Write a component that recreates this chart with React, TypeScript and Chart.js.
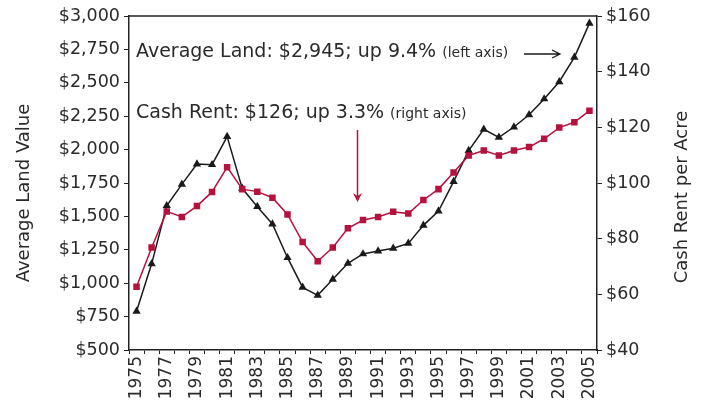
import React, { useEffect, useRef } from "react";
import { Chart, registerables } from "chart.js";

Chart.register(...registerables);

const years = [
  "1975", "1976", "1977", "1978", "1979", "1980", "1981", "1982", "1983", "1984",
  "1985", "1986", "1987", "1988", "1989", "1990", "1991", "1992", "1993", "1994",
  "1995", "1996", "1997", "1998", "1999", "2000", "2001", "2002", "2003", "2004", "2005",
];
const landValue = [
  790, 1145, 1580, 1740, 1892, 1887, 2097, 1710, 1573, 1443,
  1191, 969, 909, 1029, 1149, 1219, 1241, 1261, 1298, 1433,
  1540, 1760, 1992, 2152, 2092, 2169, 2261, 2379, 2508, 2691, 2945,
];
const cashRent = [
  62.7, 76.8, 89.8, 87.8, 91.7, 96.8, 105.7, 97.8, 96.9, 94.7,
  88.7, 78.8, 71.9, 76.8, 83.7, 86.7, 87.8, 89.7, 89.0, 93.9,
  97.8, 103.8, 109.9, 111.7, 109.9, 111.7, 112.9, 115.9, 119.9, 121.8, 126,
];
const leftTicks = [500, 750, 1000, 1250, 1500, 1750, 2000, 2250, 2500, 2750, 3000];
const rightTicks = [40, 60, 80, 100, 120, 140, 160];

const FONT = '"DejaVu Sans", sans-serif';
const TEXT = "#2a2a2a";
const RED = "#b5123e";
const BLACK = "#1a1a1a";

const decorPlugin = {
  id: "decor",
  afterDraw(chart: any) {
    const ctx = chart.ctx;
    const a = chart.chartArea;
    ctx.save();
    // top border
    ctx.strokeStyle = "#222";
    ctx.lineWidth = 1.5;
    ctx.beginPath();
    ctx.moveTo(a.left, a.top);
    ctx.lineTo(a.right, a.top);
    ctx.stroke();

    // axis titles
    ctx.fillStyle = TEXT;
    ctx.font = `18px ${FONT}`;
    ctx.textAlign = "center";
    ctx.textBaseline = "middle";
    ctx.save();
    ctx.translate(24, 193);
    ctx.rotate(-Math.PI / 2);
    ctx.fillText("Average Land Value", 0, 0);
    ctx.restore();
    ctx.save();
    ctx.translate(682, 197);
    ctx.rotate(-Math.PI / 2);
    ctx.fillText("Cash Rent per Acre", 0, 0);
    ctx.restore();

    // annotations
    ctx.textAlign = "left";
    ctx.textBaseline = "alphabetic";
    const x0 = a.left + 7;
    ctx.font = `19px ${FONT}`;
    const t1 = "Average Land: $2,945; up 9.4%";
    ctx.fillText(t1, x0, 57);
    const w1 = ctx.measureText(t1).width;
    ctx.font = `14px ${FONT}`;
    const t1b = "(left axis)";
    ctx.fillText(t1b, x0 + w1 + 6, 57);

    ctx.font = `19px ${FONT}`;
    const t2 = "Cash Rent: $126; up 3.3%";
    ctx.fillText(t2, x0, 118);
    const w2 = ctx.measureText(t2).width;
    ctx.font = `14px ${FONT}`;
    ctx.fillText("(right axis)", x0 + w2 + 6, 118);

    // black arrow
    ctx.strokeStyle = BLACK;
    ctx.lineWidth = 1.3;
    ctx.beginPath();
    ctx.moveTo(524, 54);
    ctx.lineTo(560, 54);
    ctx.moveTo(552, 50);
    ctx.lineTo(560, 54);
    ctx.lineTo(552, 58);
    ctx.stroke();

    // red arrow
    ctx.strokeStyle = RED;
    ctx.fillStyle = RED;
    ctx.lineWidth = 1.5;
    ctx.beginPath();
    ctx.moveTo(357.5, 130);
    ctx.lineTo(357.5, 198);
    ctx.stroke();
    ctx.beginPath();
    ctx.moveTo(353, 193);
    ctx.lineTo(357.5, 202);
    ctx.lineTo(362, 193);
    ctx.lineTo(357.5, 196);
    ctx.closePath();
    ctx.fill();
    ctx.restore();
  },
};

export default function App() {
  const ref = useRef<HTMLCanvasElement | null>(null);
  useEffect(() => {
    if (!ref.current) return;
    const chart = new Chart(ref.current, {
      type: "line",
      data: {
        labels: years,
        datasets: [
          {
            label: "Cash Rent",
            data: cashRent,
            yAxisID: "y1",
            borderColor: RED,
            backgroundColor: RED,
            borderWidth: 1.5,
            pointStyle: "rect",
            pointRadius: 4.6,
            pointBorderWidth: 0,
            tension: 0,
          },
          {
            label: "Average Land",
            data: landValue,
            yAxisID: "y",
            borderColor: BLACK,
            backgroundColor: BLACK,
            borderWidth: 1.5,
            pointStyle: "triangle",
            pointRadius: 4.8,
            pointBorderWidth: 0,
            tension: 0,
          },
        ],
      },
      options: {
        animation: false,
        responsive: false,
        maintainAspectRatio: false,
        layout: { padding: { top: 16, left: 0, right: 0, bottom: 0 } },
        plugins: { legend: { display: false }, tooltip: { enabled: false } },
        scales: {
          x: {
            type: "category",
            offset: true,
            grid: { display: true, drawOnChartArea: false, drawTicks: true, tickLength: 4, offset: true, color: "#222" },
            border: { display: true, color: "#222", width: 1.5 },
            ticks: {
              autoSkip: false,
              minRotation: 90,
              maxRotation: 90,
              padding: 2,
              color: TEXT,
              font: { family: FONT, size: 17 },
              callback: (_v: any, i: number) => (i % 2 === 0 ? years[i] : ""),
            },
            afterFit: (s: any) => { s.height = 54; },
          },
          y: {
            position: "left",
            min: 500,
            max: 3000,
            grid: { display: true, drawOnChartArea: false, drawTicks: true, tickLength: 5, color: "#222" },
            border: { display: true, color: "#222", width: 1.5 },
            afterBuildTicks: (s: any) => { s.ticks = leftTicks.map((v) => ({ value: v })); },
            ticks: {
              padding: 4,
              color: TEXT,
              font: { family: FONT, size: 17.5 },
              callback: (v: any) => "$" + Number(v).toLocaleString("en-US"),
            },
            afterFit: (s: any) => { s.width = 129; },
          },
          y1: {
            position: "right",
            min: 40,
            max: 160,
            grid: { display: true, drawOnChartArea: false, drawTicks: true, tickLength: 5, color: "#222" },
            border: { display: true, color: "#222", width: 1.5 },
            afterBuildTicks: (s: any) => { s.ticks = rightTicks.map((v) => ({ value: v })); },
            ticks: {
              padding: 4,
              color: TEXT,
              font: { family: FONT, size: 17.5 },
              callback: (v: any) => "$" + Number(v).toLocaleString("en-US"),
            },
            afterFit: (s: any) => { s.width = 108; },
          },
        },
      },
      plugins: [decorPlugin],
    });
    return () => chart.destroy();
  }, []);
  return (
    <div style={{ position: "fixed", left: 0, top: 0, width: 705, height: 404, background: "#fff" }}>
      <canvas ref={ref} width={705} height={404} style={{ width: 705, height: 404 }} />
    </div>
  );
}
